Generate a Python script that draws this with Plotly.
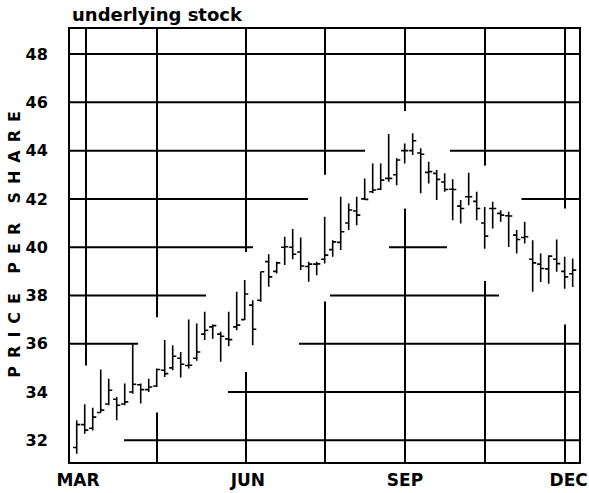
import plotly.graph_objects as go

# ---------------- data ----------------
month_labels = ["MAR", "JUN", "SEP", "DEC"]
month_pos = [0.16, 21.4, 41.04, 61.5]          # bar-index positions of the month labels
price_ticks = [32, 34, 36, 38, 40, 42, 44, 46, 48]

high = [32.83, 33.49, 33.35, 34.93, 34.55, 33.79, 34.35, 35.98, 34.35, 34.55,
        34.97, 36.15, 35.94, 35.66, 37.00, 36.84, 37.32, 36.80, 36.50, 37.32,
        38.15, 38.64, 37.80, 38.98, 39.71, 39.40, 40.43, 40.75, 40.40, 39.40,
        39.40, 41.26, 40.29, 42.09, 41.81, 42.09, 42.85, 43.47, 43.47, 44.69,
        43.68, 44.30, 44.72, 44.10, 43.54, 43.20, 43.06, 42.81, 41.95, 43.08,
        42.30, 41.67, 41.88, 41.53, 41.47, 40.71, 41.05, 40.29, 39.74, 39.67,
        40.32, 39.60, 39.53]
low = [31.44, 32.27, 32.41, 33.15, 33.45, 32.83, 33.45, 33.93, 33.52, 34.00,
       34.21, 34.62, 34.90, 34.60, 34.97, 35.30, 36.15, 36.21, 35.25, 35.90,
       36.56, 36.98, 35.94, 37.74, 38.36, 38.91, 39.26, 39.50, 39.05, 38.57,
       38.84, 39.32, 39.60, 39.88, 40.71, 40.91, 41.95, 42.23, 42.37, 42.71,
       42.57, 43.47, 43.82, 42.23, 42.64, 41.95, 42.30, 41.12, 40.98, 41.74,
       41.12, 39.94, 40.77, 41.05, 40.01, 39.74, 40.15, 38.15, 38.56, 38.49,
       38.98, 38.28, 38.35]
open_ = [31.70, 32.65, 32.50, 33.15, 33.50, 33.70, 33.50, 34.00, 34.30, 34.10,
         34.25, 34.90, 35.00, 35.40, 35.10, 35.40, 36.40, 36.70, 36.40, 36.20,
         36.70, 37.00, 37.60, 37.80, 39.40, 39.00, 40.00, 40.00, 39.80, 39.20,
         39.30, 39.50, 39.90, 40.20, 41.00, 41.50, 42.00, 42.30, 42.40, 42.85,
         43.00, 44.00, 44.00, 43.90, 43.10, 43.06, 42.70, 42.40, 41.70, 42.09,
         41.90, 41.00, 41.60, 41.40, 41.30, 40.50, 40.40, 39.50, 39.30, 39.10,
         39.50, 39.00, 38.90]
close = [32.65, 32.42, 32.96, 33.25, 34.07, 33.45, 33.59, 34.32, 34.10, 34.21,
         34.93, 34.76, 35.48, 35.15, 35.11, 35.66, 36.56, 36.75, 36.31, 36.17,
         36.77, 38.06, 36.60, 38.98, 38.77, 39.35, 40.02, 39.71, 39.22, 39.30,
         39.31, 39.67, 40.22, 40.64, 41.54, 41.33, 41.98, 42.37, 42.78, 42.85,
         43.61, 44.00, 44.41, 43.85, 43.13, 42.81, 42.39, 42.39, 41.60, 42.09,
         41.60, 40.46, 41.60, 41.33, 41.29, 40.32, 40.43, 39.35, 39.12, 39.63,
         39.32, 38.77, 39.05]
period = list(range(len(close)))

# ---------------- frame / broken grid ----------------
X0, X1 = -0.84, 62.79
Y0, Y1 = 31.10, 49.04
h_grid = [(48, X0, X1), (46, X0, X1),
          (44, X0, 36.04), (44, 46.66, X1),
          (42, X0, 28.91), (42, 55.60, X1),
          (40, X0, 22.04), (40, 39.04, 46.29),
          (38, X0, 16.16), (38, 31.66, 52.79),
          (36, X0, 7.66), (36, 27.79, X1),
          (34, 18.91, X1),
          (32, 5.91, X1)]
v_grid = [(1.16, 35.10, Y1),
          (10.04, Y0, 33.15), (10.04, 37.10, Y1),
          (21.16, Y0, 34.83), (21.16, 39.80, Y1),
          (31.04, Y0, 37.75), (31.04, 43.00, Y1),
          (41.04, Y0, 41.60), (41.04, 45.64, Y1),
          (51.04, Y0, 38.60), (51.04, 43.38, Y1),
          (61.04, Y0, 36.80), (61.04, 41.60, Y1)]

shapes = []
for yv, xa, xb in h_grid:
    shapes.append(dict(type="line", xref="x", yref="y", x0=xa, x1=xb, y0=yv, y1=yv,
                       line=dict(color="black", width=2), layer="below"))
for xv, ya, yb in v_grid:
    shapes.append(dict(type="line", xref="x", yref="y", x0=xv, x1=xv, y0=ya, y1=yb,
                       line=dict(color="black", width=2), layer="below"))

fig = go.Figure()
fig.add_trace(go.Ohlc(
    x=period, open=open_, high=high, low=low, close=close,
    increasing=dict(line=dict(color="black", width=1.6)),
    decreasing=dict(line=dict(color="black", width=1.6)),
    tickwidth=0.45, showlegend=False, hoverinfo="skip"))

tick_font = dict(family="DejaVu Sans", size=16, color="black", weight="bold")

sp = "\u2002"
word = "\u2002\u2002\u2009"
ytitle = word.join(sp.join(w) for w in ["PRICE", "PER", "SHARE"])

fig.update_layout(
    width=589, height=493,
    margin=dict(l=70, r=10, t=29, b=31, autoexpand=False),
    paper_bgcolor="white", plot_bgcolor="white",
    shapes=shapes,
    showlegend=False,
    xaxis=dict(range=[X0, X1], showgrid=False, zeroline=False, automargin=False,
               showline=True, mirror=True, linecolor="black", linewidth=2,
               tickmode="array", tickvals=month_pos, ticktext=month_labels,
               ticks="", tickfont=dict(family="DejaVu Sans", size=17, color="black", weight="bold"),
               ticklabelstandoff=2,
               rangeslider=dict(visible=False), fixedrange=True),
    yaxis=dict(range=[Y0, Y1], showgrid=False, zeroline=False, automargin=False,
               showline=True, mirror=True, linecolor="black", linewidth=2,
               tickmode="array", tickvals=price_ticks,
               ticks="", tickfont=tick_font, ticklabelstandoff=17, fixedrange=True),
    annotations=[
        dict(text="underlying stock", xref="paper", yref="paper", x=0, y=1,
             xanchor="left", yanchor="bottom", yshift=2, showarrow=False,
             font=dict(family="DejaVu Sans", size=18, color="black", weight="bold")),
        dict(text=ytitle, xref="paper", yref="paper", x=(15 - 70) / 509, y=0.502,
             xanchor="center", yanchor="middle", textangle=-90, showarrow=False,
             font=dict(family="DejaVu Sans", size=16, color="black", weight="bold")),
    ],
)

fig.write_html("out.html", config={"displayModeBar": False},
               post_script="document.body.style.margin='0';")
